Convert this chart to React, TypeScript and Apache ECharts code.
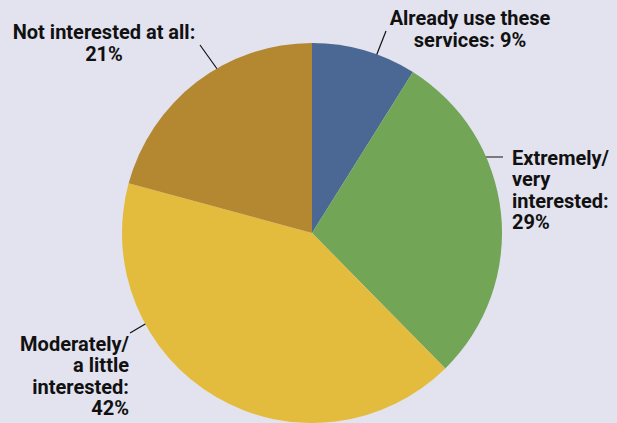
import React, { useEffect, useRef } from "react";
import * as echarts from "echarts";

const categories = [
  "Already use these services",
  "Extremely/very interested",
  "Moderately/a little interested",
  "Not interested at all",
];
const values = [9, 29, 42, 21];
const labelTexts = [
  "Already use these\nservices: 9%",
  "Extremely/\nvery\ninterested:\n29%",
  "Moderately/\na little\ninterested:\n42%",
  "Not interested at all:\n21%",
];
const colors = ["#4b6793", "#72a556", "#e3bc3d", "#b38830"];

const labelPlace = [
  { x: 470, y: 29, align: "center", line: [[375, 59], [386, 31]] },
  { x: 512, y: 190, align: "left", line: [[469, 157], [503, 157]] },
  { x: 129, y: 376, align: "right", line: [[152, 320], [130, 333]] },
  { x: 104, y: 43, align: "center", line: [[220, 73], [200, 45]] },
];

export default function App() {
  const ref = useRef<HTMLDivElement>(null);
  useEffect(() => {
    const chart = echarts.init(ref.current!, null, { renderer: "svg" });
    chart.setOption({
      animation: false,
      backgroundColor: "#e2e3ef",
      series: [
        {
          type: "pie",
          center: [312, 233],
          radius: 190,
          startAngle: 90,
          clockwise: true,
          silent: true,
          data: categories.map((c, i) => ({
            name: c,
            value: values[i],
            itemStyle: { color: colors[i] },
            label: { align: labelPlace[i].align },
          })),
          label: {
            show: true,
            formatter: (p: any) => labelTexts[p.dataIndex],
            fontFamily: "Roboto",
            fontWeight: "bold",
            fontSize: 20,
            lineHeight: 21.5,
            color: "#111",
            overflow: "none",
            width: 300,
          },
          labelLine: {
            show: true,
            lineStyle: { color: "#111", width: 1.2 },
          },
          labelLayout: (p: any) => {
            const lp = labelPlace[p.dataIndex];
            return {
              x: lp.x,
              y: lp.y,
              align: lp.align,
              verticalAlign: "middle",
              labelLinePoints: lp.line,
            };
          },
        },
      ],
    });
    return () => chart.dispose();
  }, []);
  return (
    <div
      ref={ref}
      style={{ position: "fixed", left: 0, top: 0, width: 617, height: 423 }}
    />
  );
}
